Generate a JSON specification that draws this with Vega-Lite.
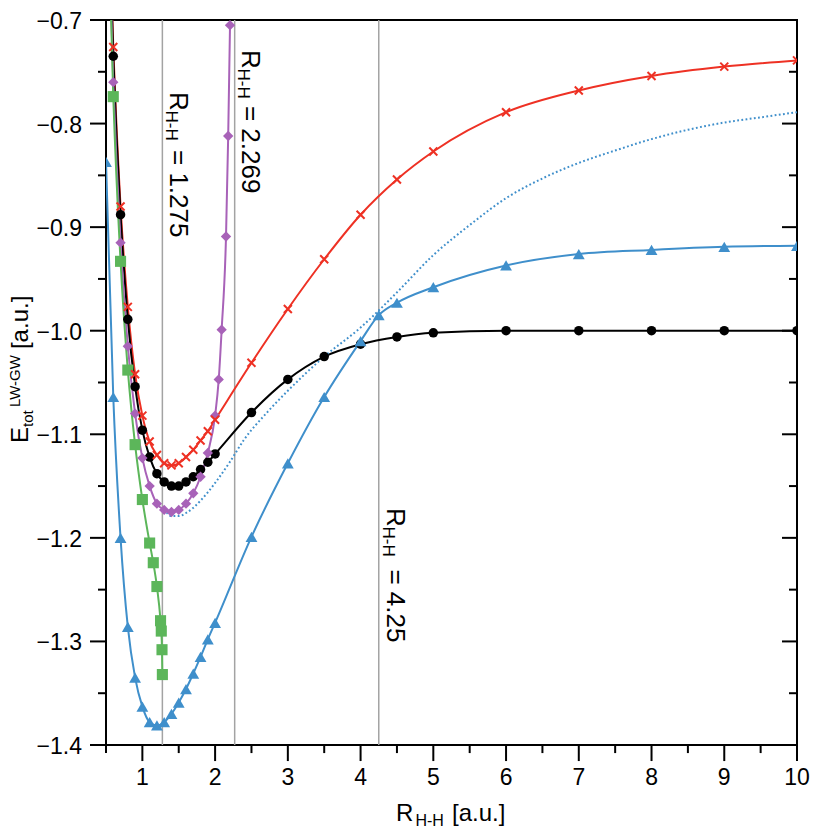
{
  "$schema": "https://vega.github.io/schema/vega-lite/v6.json",
  "width": 691,
  "height": 725,
  "autosize": {"type": "none"},
  "padding": {"left": 106, "top": 20, "right": 33, "bottom": 85},
  "background": "white",
  "config": {
    "view": {"stroke": "black", "strokeWidth": 2},
    "text": {"font": "Liberation Sans", "color": "black"}
  },
  "datasets": {
    "vlines": [{"x": 1.275}, {"x": 2.269}, {"x": 4.25}],
    "yticks": [
      {"v": -1.4, "major": true}, {"v": -1.35, "major": false}, {"v": -1.3, "major": true}, {"v": -1.25, "major": false}, {"v": -1.2, "major": true}, {"v": -1.15, "major": false}, {"v": -1.1, "major": true}, {"v": -1.05, "major": false}, {"v": -1.0, "major": true}, {"v": -0.95, "major": false}, {"v": -0.9, "major": true}, {"v": -0.85, "major": false}, {"v": -0.8, "major": true}, {"v": -0.75, "major": false}, {"v": -0.7, "major": true}
    ],
    "xticks": [
      {"v": 0.5, "major": false}, {"v": 1, "major": true}, {"v": 1.5, "major": false}, {"v": 2, "major": true}, {"v": 2.5, "major": false}, {"v": 3, "major": true}, {"v": 3.5, "major": false}, {"v": 4, "major": true}, {"v": 4.5, "major": false}, {"v": 5, "major": true}, {"v": 5.5, "major": false}, {"v": 6, "major": true}, {"v": 6.5, "major": false}, {"v": 7, "major": true}, {"v": 7.5, "major": false}, {"v": 8, "major": true}, {"v": 8.5, "major": false}, {"v": 9, "major": true}, {"v": 9.5, "major": false}, {"v": 10, "major": true}
    ],
    "curves": [
      {"s": "red", "x": 0.5, "y": -0.50}, {"s": "red", "x": 0.6, "y": -0.726}, {"s": "red", "x": 0.7, "y": -0.880}, {"s": "red", "x": 0.8, "y": -0.977}, {"s": "red", "x": 0.9, "y": -1.042}, {"s": "red", "x": 1.0, "y": -1.082}, {"s": "red", "x": 1.1, "y": -1.107}, {"s": "red", "x": 1.2, "y": -1.120}, {"s": "red", "x": 1.3, "y": -1.128}, {"s": "red", "x": 1.4, "y": -1.130}, {"s": "red", "x": 1.5, "y": -1.128}, {"s": "red", "x": 1.6, "y": -1.122}, {"s": "red", "x": 1.7, "y": -1.115}, {"s": "red", "x": 1.8, "y": -1.106}, {"s": "red", "x": 1.9, "y": -1.097}, {"s": "red", "x": 2.0, "y": -1.086}, {"s": "red", "x": 2.5, "y": -1.031}, {"s": "red", "x": 3.0, "y": -0.979}, {"s": "red", "x": 3.5, "y": -0.931}, {"s": "red", "x": 4.0, "y": -0.888}, {"s": "red", "x": 4.5, "y": -0.854}, {"s": "red", "x": 5, "y": -0.827}, {"s": "red", "x": 6, "y": -0.789}, {"s": "red", "x": 7, "y": -0.768}, {"s": "red", "x": 8, "y": -0.754}, {"s": "red", "x": 9, "y": -0.745}, {"s": "red", "x": 10, "y": -0.739},
      {"s": "black", "x": 0.5, "y": -0.50}, {"s": "black", "x": 0.6, "y": -0.735}, {"s": "black", "x": 0.7, "y": -0.888}, {"s": "black", "x": 0.8, "y": -0.989}, {"s": "black", "x": 0.9, "y": -1.054}, {"s": "black", "x": 1.0, "y": -1.096}, {"s": "black", "x": 1.1, "y": -1.122}, {"s": "black", "x": 1.2, "y": -1.138}, {"s": "black", "x": 1.3, "y": -1.146}, {"s": "black", "x": 1.4, "y": -1.150}, {"s": "black", "x": 1.5, "y": -1.150}, {"s": "black", "x": 1.6, "y": -1.146}, {"s": "black", "x": 1.7, "y": -1.141}, {"s": "black", "x": 1.8, "y": -1.134}, {"s": "black", "x": 1.9, "y": -1.127}, {"s": "black", "x": 2.0, "y": -1.119}, {"s": "black", "x": 2.5, "y": -1.079}, {"s": "black", "x": 3.0, "y": -1.047}, {"s": "black", "x": 3.5, "y": -1.025}, {"s": "black", "x": 4.0, "y": -1.013}, {"s": "black", "x": 4.5, "y": -1.006}, {"s": "black", "x": 5, "y": -1.002}, {"s": "black", "x": 6, "y": -1.000}, {"s": "black", "x": 7, "y": -1.000}, {"s": "black", "x": 8, "y": -1.000}, {"s": "black", "x": 9, "y": -1.000}, {"s": "black", "x": 10, "y": -1.000},
      {"s": "purple", "x": 0.5, "y": -0.52}, {"s": "purple", "x": 0.6, "y": -0.760}, {"s": "purple", "x": 0.7, "y": -0.915}, {"s": "purple", "x": 0.8, "y": -1.015}, {"s": "purple", "x": 0.9, "y": -1.080}, {"s": "purple", "x": 1.0, "y": -1.123}, {"s": "purple", "x": 1.1, "y": -1.150}, {"s": "purple", "x": 1.2, "y": -1.167}, {"s": "purple", "x": 1.3, "y": -1.173}, {"s": "purple", "x": 1.4, "y": -1.175}, {"s": "purple", "x": 1.5, "y": -1.173}, {"s": "purple", "x": 1.6, "y": -1.167}, {"s": "purple", "x": 1.7, "y": -1.157}, {"s": "purple", "x": 1.8, "y": -1.141}, {"s": "purple", "x": 1.9, "y": -1.118}, {"s": "purple", "x": 2.0, "y": -1.082}, {"s": "purple", "x": 2.05, "y": -1.047}, {"s": "purple", "x": 2.09, "y": -0.999}, {"s": "purple", "x": 2.15, "y": -0.909}, {"s": "purple", "x": 2.18, "y": -0.812}, {"s": "purple", "x": 2.205, "y": -0.705},
      {"s": "green", "x": 0.5, "y": -0.52}, {"s": "green", "x": 0.6, "y": -0.774}, {"s": "green", "x": 0.7, "y": -0.933}, {"s": "green", "x": 0.8, "y": -1.038}, {"s": "green", "x": 0.9, "y": -1.110}, {"s": "green", "x": 1.0, "y": -1.163}, {"s": "green", "x": 1.1, "y": -1.205}, {"s": "green", "x": 1.15, "y": -1.224}, {"s": "green", "x": 1.2, "y": -1.247}, {"s": "green", "x": 1.25, "y": -1.280}, {"s": "green", "x": 1.26, "y": -1.290}, {"s": "green", "x": 1.27, "y": -1.308}, {"s": "green", "x": 1.275, "y": -1.332},
      {"s": "blue", "x": 0.5, "y": -0.837}, {"s": "blue", "x": 0.6, "y": -1.064}, {"s": "blue", "x": 0.7, "y": -1.200}, {"s": "blue", "x": 0.8, "y": -1.286}, {"s": "blue", "x": 0.9, "y": -1.335}, {"s": "blue", "x": 1.0, "y": -1.363}, {"s": "blue", "x": 1.1, "y": -1.378}, {"s": "blue", "x": 1.2, "y": -1.381}, {"s": "blue", "x": 1.3, "y": -1.378}, {"s": "blue", "x": 1.4, "y": -1.370}, {"s": "blue", "x": 1.5, "y": -1.359}, {"s": "blue", "x": 1.6, "y": -1.346}, {"s": "blue", "x": 1.7, "y": -1.331}, {"s": "blue", "x": 1.8, "y": -1.315}, {"s": "blue", "x": 1.9, "y": -1.298}, {"s": "blue", "x": 2.0, "y": -1.282}, {"s": "blue", "x": 2.5, "y": -1.199}, {"s": "blue", "x": 3.0, "y": -1.128}, {"s": "blue", "x": 3.5, "y": -1.064}, {"s": "blue", "x": 4.0, "y": -1.010}, {"s": "blue", "x": 4.25, "y": -0.985}, {"s": "blue", "x": 4.5, "y": -0.973}, {"s": "blue", "x": 5, "y": -0.958}, {"s": "blue", "x": 6, "y": -0.937}, {"s": "blue", "x": 7, "y": -0.926}, {"s": "blue", "x": 8, "y": -0.922}, {"s": "blue", "x": 9, "y": -0.919}, {"s": "blue", "x": 10, "y": -0.918},
      {"s": "dotted", "x": 1.3, "y": -1.172}, {"s": "dotted", "x": 1.4, "y": -1.179}, {"s": "dotted", "x": 1.5, "y": -1.179}, {"s": "dotted", "x": 1.6, "y": -1.176}, {"s": "dotted", "x": 1.7, "y": -1.171}, {"s": "dotted", "x": 1.8, "y": -1.164}, {"s": "dotted", "x": 1.9, "y": -1.156}, {"s": "dotted", "x": 2.0, "y": -1.147}, {"s": "dotted", "x": 2.2, "y": -1.127}, {"s": "dotted", "x": 2.4, "y": -1.105}, {"s": "dotted", "x": 2.7, "y": -1.080}, {"s": "dotted", "x": 3.0, "y": -1.058}, {"s": "dotted", "x": 3.5, "y": -1.025}, {"s": "dotted", "x": 4.0, "y": -0.997}, {"s": "dotted", "x": 4.5, "y": -0.963}, {"s": "dotted", "x": 5.0, "y": -0.927}, {"s": "dotted", "x": 5.5, "y": -0.898}, {"s": "dotted", "x": 6.0, "y": -0.872}, {"s": "dotted", "x": 6.5, "y": -0.853}, {"s": "dotted", "x": 7.0, "y": -0.838}, {"s": "dotted", "x": 7.5, "y": -0.826}, {"s": "dotted", "x": 8.0, "y": -0.815}, {"s": "dotted", "x": 8.5, "y": -0.806}, {"s": "dotted", "x": 9.0, "y": -0.799}, {"s": "dotted", "x": 9.5, "y": -0.794}, {"s": "dotted", "x": 10, "y": -0.789}
    ],
    "annot": [
      {"k": "vbig", "x": 1.3798, "y": -0.7695, "t": "R"},
      {"k": "vsub", "x": 1.3249, "y": -0.7874, "t": "H-H"},
      {"k": "vbig", "x": 1.3798, "y": -0.8255, "t": "= 1.275"},
      {"k": "vbig", "x": 2.3697, "y": -0.729, "t": "R"},
      {"k": "vsub", "x": 2.3147, "y": -0.7468, "t": "H-H"},
      {"k": "vbig", "x": 2.3697, "y": -0.783, "t": "= 2.269"},
      {"k": "vbig", "x": 4.363, "y": -1.1712, "t": "R"},
      {"k": "vsub", "x": 4.308, "y": -1.189, "t": "H-H"},
      {"k": "vbig", "x": 4.363, "y": -1.2305, "t": "= 4.25"},
      {"k": "ybig", "x": -0.572, "y": -1.1084, "t": "E"},
      {"k": "ysub", "x": -0.5036, "y": -1.093, "t": "tot"},
      {"k": "ysub", "x": -0.6823, "y": -1.0737, "t": "LW-GW"},
      {"k": "ybig", "x": -0.572, "y": -1.0177, "t": "[a.u.]"},
      {"k": "xbig", "x": 4.4868, "y": -1.4734, "t": "R"},
      {"k": "xsub", "x": 4.7549, "y": -1.4782, "t": "H-H"},
      {"k": "xbig", "x": 5.2567, "y": -1.4734, "t": "[a.u.]"}
    ]
  },
  "layer": [
    {
      "data": {"name": "vlines"},
      "mark": {"type": "rule", "color": "#a3a3a3", "strokeWidth": 1.5},
      "encoding": {
        "x": {"field": "x", "type": "quantitative", "scale": {"domain": [0.5, 10], "nice": false, "zero": false}, "axis": null}
      }
    },
    {
      "data": {"name": "curves"},
      "transform": [{"filter": "datum.s !== 'dotted'"}],
      "mark": {"type": "line", "strokeWidth": 2, "interpolate": "monotone", "clip": true},
      "encoding": {
        "x": {"field": "x", "type": "quantitative", "scale": {"domain": [0.5, 10], "nice": false, "zero": false}, "axis": null},
        "y": {"field": "y", "type": "quantitative", "scale": {"domain": [-1.4, -0.7], "nice": false, "zero": false}, "axis": null},
        "color": {"field": "s", "type": "nominal", "legend": null,
                  "scale": {"domain": ["red", "black", "purple", "green", "blue", "dotted"], "range": ["#ee3124", "#000000", "#a862b8", "#5cb65a", "#3f8fcb", "#3f8fcb"]}}
      }
    },
    {
      "data": {"name": "yticks"},
      "transform": [{"filter": "datum.major"}],
      "mark": {"type": "point", "shape": "M-1,0L0,0", "filled": false, "size": 1024, "strokeWidth": 2, "color": "black", "opacity": 1},
      "encoding": {
        "y": {"field": "v", "type": "quantitative", "scale": {"domain": [-1.4, -0.7], "nice": false, "zero": false}, "axis": null},
        "x": {"datum": 0.5, "type": "quantitative", "scale": {"domain": [0.5, 10], "nice": false, "zero": false}, "axis": null}
      }
    },
    {
      "data": {"name": "yticks"},
      "transform": [{"filter": "!datum.major"}],
      "mark": {"type": "point", "shape": "M-1,0L0,0", "filled": false, "size": 256, "strokeWidth": 2, "color": "black", "opacity": 1},
      "encoding": {
        "y": {"field": "v", "type": "quantitative", "scale": {"domain": [-1.4, -0.7], "nice": false, "zero": false}, "axis": null},
        "x": {"datum": 0.5, "type": "quantitative", "scale": {"domain": [0.5, 10], "nice": false, "zero": false}, "axis": null}
      }
    },
    {
      "data": {"name": "yticks"},
      "transform": [{"filter": "datum.major"}],
      "mark": {"type": "rule", "color": "black", "strokeWidth": 2},
      "encoding": {
        "y": {"field": "v", "type": "quantitative", "scale": {"domain": [-1.4, -0.7], "nice": false, "zero": false}, "axis": null},
        "x": {"datum": 10, "type": "quantitative", "scale": {"domain": [0.5, 10], "nice": false, "zero": false}, "axis": null},
        "x2": {"datum": 9.794}
      }
    },
    {
      "data": {"name": "yticks"},
      "transform": [{"filter": "!datum.major"}],
      "mark": {"type": "rule", "color": "black", "strokeWidth": 2},
      "encoding": {
        "y": {"field": "v", "type": "quantitative", "scale": {"domain": [-1.4, -0.7], "nice": false, "zero": false}, "axis": null},
        "x": {"datum": 10, "type": "quantitative", "scale": {"domain": [0.5, 10], "nice": false, "zero": false}, "axis": null},
        "x2": {"datum": 9.89}
      }
    },
    {
      "data": {"name": "xticks"},
      "transform": [{"filter": "datum.major"}],
      "mark": {"type": "rule", "color": "black", "strokeWidth": 2},
      "encoding": {
        "x": {"field": "v", "type": "quantitative", "scale": {"domain": [0.5, 10], "nice": false, "zero": false}, "axis": null},
        "y": {"datum": -1.4, "type": "quantitative", "scale": {"domain": [-1.4, -0.7], "nice": false, "zero": false}, "axis": null},
        "y2": {"datum": -1.4155}
      }
    },
    {
      "data": {"name": "xticks"},
      "transform": [{"filter": "!datum.major"}],
      "mark": {"type": "rule", "color": "black", "strokeWidth": 2},
      "encoding": {
        "x": {"field": "v", "type": "quantitative", "scale": {"domain": [0.5, 10], "nice": false, "zero": false}, "axis": null},
        "y": {"datum": -1.4, "type": "quantitative", "scale": {"domain": [-1.4, -0.7], "nice": false, "zero": false}, "axis": null},
        "y2": {"datum": -1.4078}
      }
    },
    {
      "data": {"name": "yticks"},
      "transform": [{"filter": "datum.major"}],
      "mark": {"type": "text", "align": "right", "baseline": "alphabetic", "dy": 9, "fontSize": 23},
      "encoding": {
        "y": {"field": "v", "type": "quantitative", "scale": {"domain": [-1.4, -0.7], "nice": false, "zero": false}, "axis": null},
        "x": {"datum": 0.17, "type": "quantitative", "scale": {"domain": [0.5, 10], "nice": false, "zero": false}, "axis": null},
        "text": {"field": "v", "type": "quantitative", "format": ".1f"}
      }
    },
    {
      "data": {"name": "xticks"},
      "transform": [{"filter": "datum.major"}],
      "mark": {"type": "text", "align": "center", "baseline": "alphabetic", "fontSize": 23},
      "encoding": {
        "x": {"field": "v", "type": "quantitative", "scale": {"domain": [0.5, 10], "nice": false, "zero": false}, "axis": null},
        "y": {"datum": -1.4382, "type": "quantitative", "scale": {"domain": [-1.4, -0.7], "nice": false, "zero": false}, "axis": null},
        "text": {"field": "v", "type": "quantitative", "format": "d"}
      }
    },
    {
      "data": {"name": "curves"},
      "transform": [{"filter": "datum.s === 'dotted'"}],
      "mark": {"type": "line", "strokeWidth": 2, "interpolate": "monotone", "strokeDash": [1.8, 2.4], "color": "#3f8fcb", "clip": true},
      "encoding": {
        "x": {"field": "x", "type": "quantitative", "scale": {"domain": [0.5, 10], "nice": false, "zero": false}, "axis": null},
        "y": {"field": "y", "type": "quantitative", "scale": {"domain": [-1.4, -0.7], "nice": false, "zero": false}, "axis": null}
      }
    },
    {
      "data": {"name": "curves"},
      "transform": [{"filter": "datum.s === 'black' || datum.s === 'purple' || datum.s === 'green' || datum.s === 'blue'"}],
      "mark": {"type": "point", "filled": true, "opacity": 1, "strokeWidth": 0, "clip": true},
      "encoding": {
        "x": {"field": "x", "type": "quantitative", "scale": {"domain": [0.5, 10], "nice": false, "zero": false}, "axis": null},
        "y": {"field": "y", "type": "quantitative", "scale": {"domain": [-1.4, -0.7], "nice": false, "zero": false}, "axis": null},
        "color": {"field": "s", "type": "nominal", "legend": null,
                  "scale": {"domain": ["red", "black", "purple", "green", "blue", "dotted"], "range": ["#ee3124", "#000000", "#a862b8", "#5cb65a", "#3f8fcb", "#3f8fcb"]}},
        "shape": {"field": "s", "type": "nominal", "legend": null,
                  "scale": {"domain": ["black", "purple", "green", "blue"], "range": ["circle", "diamond", "square", "triangle-up"]}},
        "size": {"field": "s", "type": "nominal", "legend": null,
                 "scale": {"domain": ["black", "purple", "green", "blue"], "range": [90, 140, 81, 115]}}
      }
    },
    {
      "data": {"name": "curves"},
      "transform": [{"filter": "datum.s === 'red'"}],
      "mark": {"type": "point", "filled": false, "shape": "M-1,-1L1,1M-1,1L1,-1", "size": 64, "strokeWidth": 2, "color": "#ee3124", "opacity": 1, "clip": true},
      "encoding": {
        "x": {"field": "x", "type": "quantitative", "scale": {"domain": [0.5, 10], "nice": false, "zero": false}, "axis": null},
        "y": {"field": "y", "type": "quantitative", "scale": {"domain": [-1.4, -0.7], "nice": false, "zero": false}, "axis": null}
      }
    },
    {
      "data": {"name": "annot"},
      "transform": [{"filter": "datum.k === 'vbig'"}],
      "mark": {"type": "text", "angle": 90, "align": "left", "baseline": "alphabetic", "fontSize": 26},
      "encoding": {
        "x": {"field": "x", "type": "quantitative", "scale": {"domain": [0.5, 10], "nice": false, "zero": false}, "axis": null},
        "y": {"field": "y", "type": "quantitative", "scale": {"domain": [-1.4, -0.7], "nice": false, "zero": false}, "axis": null},
        "text": {"field": "t"}
      }
    },
    {
      "data": {"name": "annot"},
      "transform": [{"filter": "datum.k === 'vsub'"}],
      "mark": {"type": "text", "angle": 90, "align": "left", "baseline": "alphabetic", "fontSize": 17},
      "encoding": {
        "x": {"field": "x", "type": "quantitative", "scale": {"domain": [0.5, 10], "nice": false, "zero": false}, "axis": null},
        "y": {"field": "y", "type": "quantitative", "scale": {"domain": [-1.4, -0.7], "nice": false, "zero": false}, "axis": null},
        "text": {"field": "t"}
      }
    },
    {
      "data": {"name": "annot"},
      "transform": [{"filter": "datum.k === 'ybig'"}],
      "mark": {"type": "text", "angle": 270, "align": "left", "baseline": "alphabetic", "fontSize": 24},
      "encoding": {
        "x": {"field": "x", "type": "quantitative", "scale": {"domain": [0.5, 10], "nice": false, "zero": false}, "axis": null},
        "y": {"field": "y", "type": "quantitative", "scale": {"domain": [-1.4, -0.7], "nice": false, "zero": false}, "axis": null},
        "text": {"field": "t"}
      }
    },
    {
      "data": {"name": "annot"},
      "transform": [{"filter": "datum.k === 'ysub'"}],
      "mark": {"type": "text", "angle": 270, "align": "left", "baseline": "alphabetic", "fontSize": 15},
      "encoding": {
        "x": {"field": "x", "type": "quantitative", "scale": {"domain": [0.5, 10], "nice": false, "zero": false}, "axis": null},
        "y": {"field": "y", "type": "quantitative", "scale": {"domain": [-1.4, -0.7], "nice": false, "zero": false}, "axis": null},
        "text": {"field": "t"}
      }
    },
    {
      "data": {"name": "annot"},
      "transform": [{"filter": "datum.k === 'xbig'"}],
      "mark": {"type": "text", "align": "left", "baseline": "alphabetic", "fontSize": 24},
      "encoding": {
        "x": {"field": "x", "type": "quantitative", "scale": {"domain": [0.5, 10], "nice": false, "zero": false}, "axis": null},
        "y": {"field": "y", "type": "quantitative", "scale": {"domain": [-1.4, -0.7], "nice": false, "zero": false}, "axis": null},
        "text": {"field": "t"}
      }
    },
    {
      "data": {"name": "annot"},
      "transform": [{"filter": "datum.k === 'xsub'"}],
      "mark": {"type": "text", "align": "left", "baseline": "alphabetic", "fontSize": 16},
      "encoding": {
        "x": {"field": "x", "type": "quantitative", "scale": {"domain": [0.5, 10], "nice": false, "zero": false}, "axis": null},
        "y": {"field": "y", "type": "quantitative", "scale": {"domain": [-1.4, -0.7], "nice": false, "zero": false}, "axis": null},
        "text": {"field": "t"}
      }
    }
  ]
}
